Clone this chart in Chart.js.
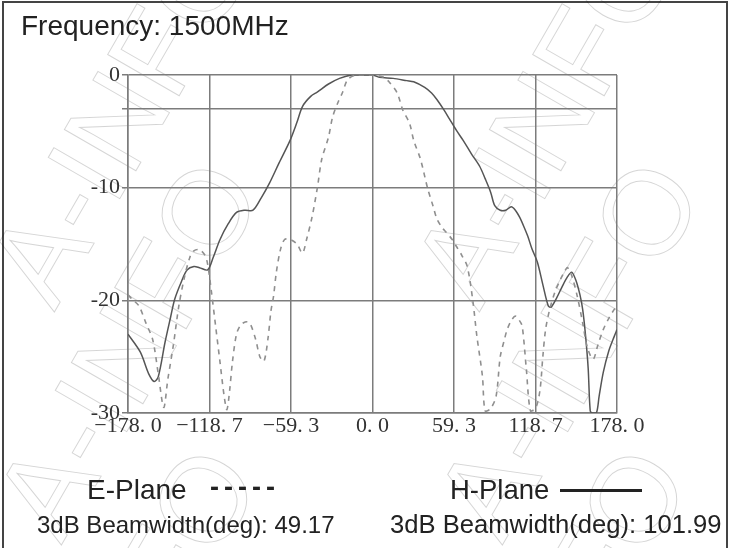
<!DOCTYPE html>
<html>
<head>
<meta charset="utf-8">
<script src="https://cdn.jsdelivr.net/npm/chart.js@4.4.1/dist/chart.umd.min.js"></script>
<style>
  html, body { margin: 0; padding: 0; background: #fff; }
  #wrap { position: relative; width: 735px; height: 548px; overflow: hidden; }
  #frame { position: absolute; left: 2px; top: 1px; width: 722px; height: 560px; border: 2px solid #444; }
  canvas { position: absolute; left: 0; top: 0; }
  .txt { position: absolute; font-family: "Liberation Sans", Arial, sans-serif; color: #222; white-space: nowrap; line-height: 1; }
  #swatch { position: absolute; left: 560px; top: 489px; width: 82px; height: 0; border-top: 3px solid #222; }
</style>
</head>
<body>
<div id="wrap">
  <div id="frame"></div>
  <canvas id="patternChart" width="735" height="548"></canvas>
  <div class="txt" style="left:21px; top:12px; font-size:28px;">Frequency: 1500MHz</div>
  <div class="txt" style="left:87px; top:476px; font-size:28px;">E-Plane</div>
  <div class="txt" style="left:210px; top:474px; font-size:27px; font-weight:bold; letter-spacing:5px;">-----</div>
  <div class="txt" style="left:450px; top:476px; font-size:27.5px;">H-Plane</div>
  <div id="swatch"></div>
  <div class="txt" style="left:37px; top:513px; font-size:24px;">3dB Beamwidth(deg): 49.17</div>
  <div class="txt" style="left:390px; top:512px; font-size:25.6px;">3dB Beamwidth(deg): 101.99</div>
</div>
<script>
// angle ticks and level ticks
var xTicks = [-178, -118.7, -59.3, 0, 59.3, 118.7, 178];
var yTicks = [0, -3, -10, -20, -30];

// E-Plane (dashed)
var eAngle = [-178, -175, -170, -165, -160, -156, -152, -149, -145, -141, -137, -133, -130, -126, -122, -120,
  -117, -114, -111, -108, -106, -104, -102, -99, -96, -92, -89, -85, -82, -79, -76, -74, -72, -70, -67, -64,
  -60, -55, -51, -48, -44, -40, -37, -32, -29, -25, -22, -18, -12, -5, 0, 5, 8, 12, 18, 22, 27, 30, 35, 40,
  44, 47, 51, 54, 58, 61, 65, 69, 73, 76, 80, 82, 86, 90, 93, 96, 98, 101, 104, 107, 109, 112, 115, 119,
  122, 124, 126, 129, 133, 137, 140, 142, 145, 149, 153, 156, 159, 161, 164, 168, 172, 176, 178];
var eLevel = [-19.5, -19.9, -20.5, -22, -23.5, -26.5, -29.5, -27, -24, -20.5, -18, -16.2, -15.6, -15.5, -16, -16.8,
  -19.5, -22.5, -25.5, -28.5, -29.7, -28, -25.5, -23, -22.2, -21.9, -22.1, -23.5, -25, -25.4, -23.3, -21, -19.6, -17.5, -15.5, -14.6,
  -14.6, -15, -15.8, -14.6, -12.6, -9.9, -7.5, -5.5, -3.7, -2.4, -1.6, -0.4, 0, 0, 0, -0.1, -0.2, -0.6, -1.6, -3.1, -4.3, -5.8, -7.5, -10,
  -11.6, -12.8, -13.6, -14, -14.6, -15.2, -16, -17, -20, -23.2, -26.7, -29.8, -29.6, -28.5, -25, -23.5, -22.6, -21.8, -21.4, -21.8, -22.3, -26.1, -29.8, -29.5,
  -27.9, -25, -22.6, -20.8, -19.2, -18.1, -17.4, -17.1, -17.8, -19.6, -22, -24, -25, -25.2, -24, -22.6, -21.6, -20.8, -20.5];

// H-Plane (solid)
var hAngle = [-178, -169, -163, -159, -156, -151, -147, -144, -139, -135, -130, -126, -120, -116, -111, -105,
  -99, -93, -87, -81, -75, -68, -60, -55, -51, -45, -40, -32, -24, -15, -5, 0, 5, 15, 25, 30, 38, 43, 47,
  52, 56, 61, 66, 72, 78, 82, 86, 89, 93, 97, 101, 104, 107, 110, 113, 116, 120, 124, 128, 130, 134, 138,
  142, 145, 148, 151, 153, 155, 157, 158.5, 160, 163, 165, 168, 172, 176, 178];
var hLevel = [-23, -24.6, -26.5, -27.2, -26.8, -23.7, -21.5, -19.9, -18.3, -17.3, -17, -17.1, -17.3, -16.2, -14.6, -13.2,
  -12.2, -12, -12, -10.9, -9.6, -7.8, -5.8, -4.2, -2.8, -1.9, -1.5, -0.8, -0.3, 0, 0, 0, -0.2, -0.3, -0.5, -0.6, -1.1, -1.6, -2.2,
  -3.1, -3.9, -4.9, -5.8, -7, -8.1, -9.2, -10.4, -11.6, -12, -12, -11.7, -12, -12.6, -13.4, -14.3, -15.4, -16.6, -18.6, -20.5, -20.6, -19.8, -18.8,
  -17.9, -17.5, -18.2, -19.5, -20.8, -23, -26, -29.8, -30, -30, -28.5, -26.4, -24.5, -23.2, -22.6];

function toPoints(xs, ys) {
  return xs.map(function (x, i) { return { x: x, y: ys[i] }; });
}

// faint outlined "A-INFO" watermark, each copy anchored at its final "O"
var watermark = {
  id: 'watermark',
  beforeDraw: function (chart) {
    var ctx = chart.ctx;
    ctx.save();
    ctx.strokeStyle = 'rgba(0,0,0,0.17)';
    ctx.lineWidth = 1;
    ctx.font = '120px "Liberation Sans", Arial, sans-serif';
    ctx.textAlign = 'right';
    ctx.textBaseline = 'middle';
    [[205, -15], [630, -15], [212, 218], [653, 218], [210, 505], [640, 505]].forEach(function (p) {
      ctx.save();
      ctx.translate(p[0], p[1]);
      ctx.rotate(-Math.PI / 3);
      ctx.strokeText('A-INFO', 48, 0);
      ctx.restore();
    });
    ctx.restore();
  }
};

var gridColor = '#7c7c7c';
var tickFont = { family: '"Liberation Serif", "DejaVu Serif", serif', size: 22 };

new Chart(document.getElementById('patternChart'), {
  type: 'line',
  data: {
    datasets: [{
      label: 'E-Plane',
      data: toPoints(eAngle, eLevel),
      borderColor: '#8f8f8f',
      borderWidth: 1.6,
      borderDash: [5, 5],
      pointRadius: 0,
      tension: 0.3,
      fill: false
    }, {
      label: 'H-Plane',
      data: toPoints(hAngle, hLevel),
      borderColor: '#555',
      borderWidth: 1.5,
      pointRadius: 0,
      tension: 0.3,
      fill: false
    }]
  },
  options: {
    responsive: false,
    animation: false,
    layout: { padding: { left: 0, top: 75, right: 118, bottom: 95 } },
    plugins: { legend: { display: false }, tooltip: { enabled: false } },
    scales: {
      x: {
        type: 'linear',
        min: -178,
        max: 178,
        afterBuildTicks: function (scale) { scale.ticks = xTicks.map(function (v) { return { value: v }; }); },
        afterFit: function (scale) { scale.height = 40; },
        grid: { color: gridColor, lineWidth: 1.5, drawTicks: false },
        border: { color: gridColor, width: 1.5 },
        ticks: {
          color: '#333',
          font: tickFont,
          padding: 0,
          maxRotation: 0,
          autoSkip: false,
          callback: function (v) {
            var s = Math.abs(v).toFixed(1).replace('.', '. ');
            return v < 0 ? '\u2212' + s : s;
          }
        }
      },
      y: {
        min: -30,
        max: 0,
        afterBuildTicks: function (scale) { scale.ticks = yTicks.map(function (v) { return { value: v }; }); },
        afterFit: function (scale) { scale.width = 128; },
        grid: { color: gridColor, lineWidth: 1.5, tickLength: 6 },
        border: { color: gridColor, width: 1.5 },
        ticks: {
          color: '#333',
          font: tickFont,
          padding: 2,
          autoSkip: false,
          callback: function (v) { return v === -3 ? '' : String(v); }
        }
      }
    }
  },
  plugins: [watermark]
});
</script>
</body>
</html>
